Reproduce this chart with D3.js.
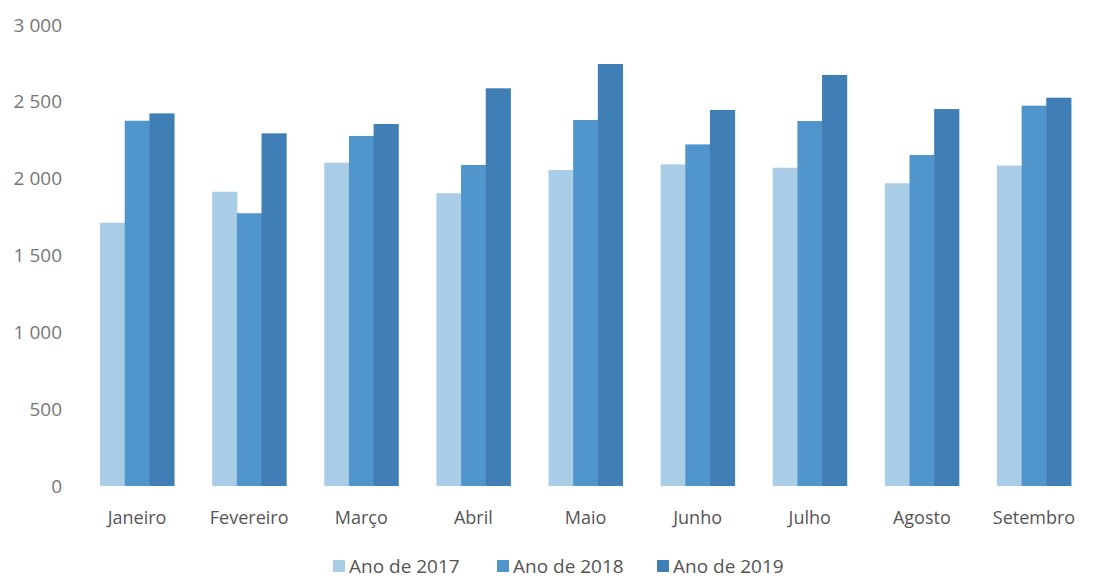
<!DOCTYPE html>
<html><head><meta charset="utf-8">
<script src="https://cdn.jsdelivr.net/npm/d3@7"></script>
<style>body{margin:0;background:#fff}svg{display:block}</style>
</head><body><svg id="c" width="1099" height="581"></svg>
<script>
const categories = ["Janeiro","Fevereiro","Março","Abril","Maio","Junho","Julho","Agosto","Setembro"];
const seriesNames = ["Ano de 2017","Ano de 2018","Ano de 2019"];
const v2017 = [1713,1915,2104,1905,2056,2093,2071,1970,2085];
const v2018 = [2377,1775,2278,2089,2382,2223,2375,2154,2475];
const v2019 = [2425,2295,2356,2588,2746,2447,2675,2453,2527];
const yTicks = [0,500,1000,1500,2000,2500,3000];
const colors = ["#a9cde6","#5096cc","#3f7fb6"];

const series = [v2017, v2018, v2019];
const svg = d3.select("#c");
const x = d3.scaleBand().domain(categories).range([81,1090]).paddingInner(0.34).paddingOuter(0.17);
const xs = d3.scaleBand().domain(seriesNames).range([0, x.bandwidth()]);
const y = d3.scaleLinear().domain([0,3000]).range([486,25]);
const fmt = v => d3.format(",")(v).replace(/,/g," ");

const yAxis = svg.append("g").attr("transform","translate(64,0)")
  .call(d3.axisLeft(y).tickValues(yTicks).tickSize(0).tickPadding(2).tickFormat(fmt));
yAxis.select(".domain").remove();
yAxis.selectAll("text").attr("fill","#777").style("font-family","Open Sans, sans-serif").style("font-size","19px");

const groups = svg.append("g").selectAll("g").data(categories).join("g")
  .attr("transform", c => `translate(${x(c)},0)`);
groups.selectAll("rect").data((c,i) => series.map((s,j) => ({name: seriesNames[j], v: s[i], j})))
  .join("rect")
  .attr("x", d => xs(d.name)).attr("width", xs.bandwidth()+0.5)
  .attr("y", d => y(d.v)).attr("height", d => y(0) - y(d.v))
  .attr("fill", d => colors[d.j]);

const xAxis = svg.append("g").attr("transform","translate(0,486)")
  .call(d3.axisBottom(x).tickSize(0).tickPadding(25));
xAxis.select(".domain").remove();
xAxis.selectAll("text").attr("fill","#555").style("font-family","Open Sans, sans-serif").style("font-size","18px");

const legX = [333, 497, 657];
const leg = svg.append("g").selectAll("g").data(seriesNames).join("g")
  .attr("transform",(d,i)=>`translate(${legX[i]},573)`);
leg.append("rect").attr("x",0).attr("y",-13).attr("width",12).attr("height",12).attr("fill",(d,i)=>colors[i]);
leg.append("text").attr("x",16).attr("y",0).text(d=>d).attr("fill","#555")
  .style("font-family","Open Sans, sans-serif").style("font-size","19px");
</script></body></html>
